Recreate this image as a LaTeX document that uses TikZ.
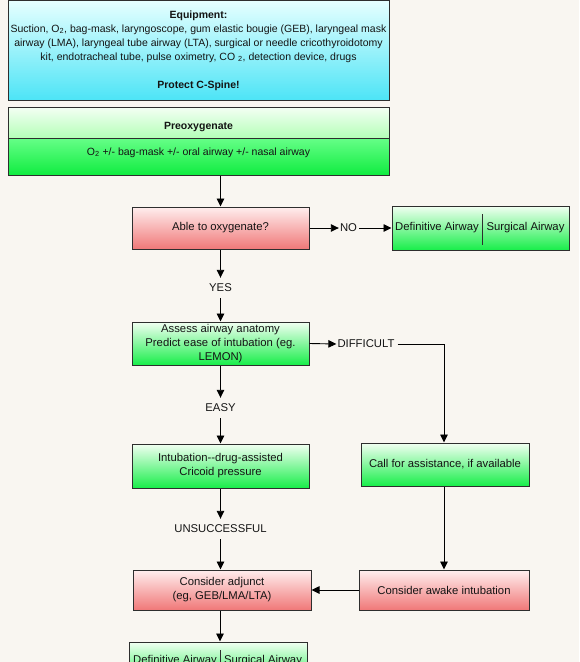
\documentclass[tikz,border=0pt]{standalone}
\usepackage{fontspec}
\setmainfont{Liberation Sans}
\usetikzlibrary{arrows.meta}
\definecolor{bgcol}{HTML}{F9F6F1}
\definecolor{bordercol}{HTML}{2E2E2E}
\definecolor{txtcol}{HTML}{141414}
\definecolor{ctop}{HTML}{E6FFFF}
\definecolor{cbot}{HTML}{4CE4F6}
\definecolor{gtop}{HTML}{F2FFF2}
\definecolor{gbot}{HTML}{18EE4A}
\definecolor{ltop}{HTML}{F4FFF4}
\definecolor{lbot}{HTML}{B4FFB8}
\definecolor{mtop}{HTML}{66FF88}
\definecolor{mbot}{HTML}{10EC40}
\definecolor{rtop}{HTML}{FFEEEE}
\definecolor{rbot}{HTML}{F07878}
\newcommand{\txtsize}{\fontsize{11.3}{14}\selectfont}
\newcommand{\eqsize}{\fontsize{10.5}{14}\selectfont}
\tikzset{
  basebox/.style={draw=bordercol, line width=1pt, inner sep=0pt, align=center, text=txtcol, font=\txtsize},
  greenbox/.style={basebox, top color=gtop, bottom color=gbot},
  redbox/.style={basebox, top color=rtop, bottom color=rbot},
  cyanbox/.style={basebox, top color=ctop, bottom color=cbot},
  lighttop/.style={basebox, top color=ltop, bottom color=lbot},
  midbot/.style={basebox, top color=mtop, bottom color=mbot},
  lbl/.style={inner sep=0pt, text=txtcol, font=\txtsize, minimum height=20pt, align=center},
  plain/.style={inner sep=0pt, text=txtcol, font=\txtsize, align=center},
  arr/.style={-{Triangle[length=8pt,width=7.5pt]}, line width=0.9pt, draw=black},
}
\begin{document}
\begin{tikzpicture}[x=1pt,y=-1pt]
\fill[bgcol] (0,0) rectangle (579,662);
\useasboundingbox (0,0) rectangle (579,662);
\clip (0,0) rectangle (579,662);
% equipment
\node[cyanbox, minimum width=381pt, minimum height=100pt] (equip) at (198.5,50.5) {};
\node[plain, font=\eqsize] (equipt) at (198.5,50.5) {\textbf{Equipment:}\\
Suction, O\textsubscript{2}, bag-mask, laryngoscope, gum elastic bougie (GEB), laryngeal mask\\
airway (LMA), laryngeal tube airway (LTA), surgical or needle cricothyroidotomy\\
kit, endotracheal tube, pulse oximetry, CO \textsubscript{2}, detection device, drugs\\[14pt]
\textbf{Protect C-Spine!}};
% preoxygenate
\node[lighttop, minimum width=381pt, minimum height=31pt] (preoxA) at (198.5,122.5) {};
\node[midbot, minimum width=381pt, minimum height=37pt] (preoxB) at (198.5,156.5) {};
\node[plain, font=\eqsize] (preoxAt) at (198.5,127) {\textbf{Preoxygenate}};
\node[plain, font=\eqsize] (preoxBt) at (198.5,152.5) {O\textsubscript{2} +/- bag-mask +/- oral airway +/- nasal airway};
% main column
\node[redbox, minimum width=177pt, minimum height=42pt] (able) at (220.5,228) {Able to oxygenate?};
\node[greenbox, minimum width=177pt, minimum height=43pt] (assess) at (220.5,343.5) {Assess airway anatomy\\Predict ease of intubation (eg.\\LEMON)};
\node[greenbox, minimum width=177pt, minimum height=44pt] (intub) at (220.5,466) {Intubation-{}-drug-assisted\\Cricoid pressure};
\node[redbox, minimum width=178pt, minimum height=40pt] (adj) at (222,590) {Consider adjunct\\(eg, GEB/LMA/LTA)};
\node[greenbox, minimum width=178pt, minimum height=44pt] (def2) at (218,664) {};
\node[plain] (def2a) at (175,661) {Definitive Airway};
\node[plain] (def2b) at (263,661) {Surgical Airway};
\coordinate (d2a) at (220,650);
\coordinate (d2b) at (220,680);
\draw[bordercol, line width=0.9pt] (d2a) -- (d2b);
% right column
\node[greenbox, minimum width=177pt, minimum height=44pt] (def1) at (480.5,228) {};
\node[plain] (def1a) at (437,228) {Definitive Airway};
\node[plain] (def1b) at (525.5,228) {Surgical Airway};
\coordinate (d1a) at (482,214);
\coordinate (d1b) at (482,245);
\draw[bordercol, line width=0.9pt] (d1a) -- (d1b);
\node[greenbox, minimum width=168pt, minimum height=43pt] (call) at (445,464.5) {Call for assistance, if available};
\node[redbox, minimum width=170pt, minimum height=40pt] (awake) at (444,590) {Consider awake intubation};
% labels
\node[lbl] (no) at (348.5,228) {NO};
\node[lbl] (yes) at (220.5,288) {YES};
\node[lbl] (diff) at (366,344) {DIFFICULT};
\node[lbl] (easy) at (220.5,408) {EASY};
\node[lbl] (unsucc) at (220.5,529) {UNSUCCESSFUL};
\coordinate (corner) at (444,344);
% connectors
\draw[arr] (preoxB.south -| able.north) -- (able.north);
\draw[arr] (able.east) -- ([xshift=-1pt]no.west);
\draw[arr] ([xshift=2pt]no.east) -- (def1.west);
\draw[arr] (able.south) -- (yes.north);
\draw[arr] (yes.south) -- (assess.north);
\draw[arr] (assess.east) -- ([xshift=-1pt]diff.west);
\draw[arr] ([xshift=3pt]diff.east) -- (corner) -- (corner |- call.north);
\draw[arr] (assess.south) -- (easy.north);
\draw[arr] (easy.south) -- (intub.north);
\draw[arr] (intub.south) -- (unsucc.north);
\draw[arr] (unsucc.south) -- (unsucc.south |- adj.north);
\draw[arr] (call.south -| corner) -- (awake.north -| corner);
\draw[arr] (awake.west) -- (adj.east);
\draw[arr] (adj.south -| d2a) -- (def2.north -| d2a);
\end{tikzpicture}
\end{document}
